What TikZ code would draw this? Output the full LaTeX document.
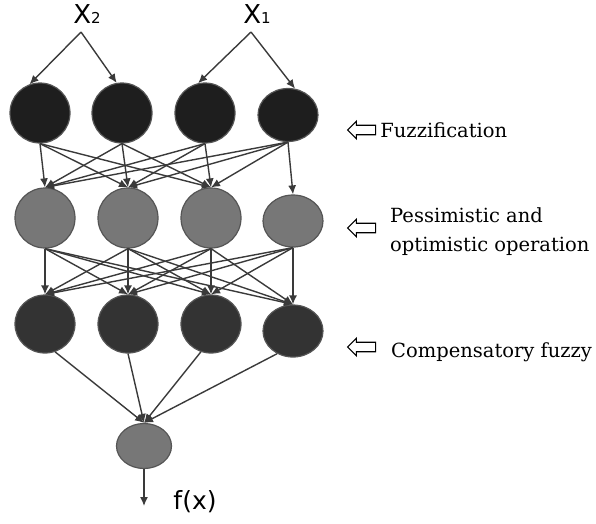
\documentclass[tikz,border=0pt]{standalone}
\usepackage{fontspec}
\usepackage{tikz}
\usetikzlibrary{positioning,arrows.meta,calc,shapes.geometric,shapes.arrows}
\newfontfamily\labelfont{DejaVu Serif}
\newfontfamily\inputfont{DejaVu Sans}
\definecolor{NodeBlack}{HTML}{1E1E1E}
\definecolor{NodeGray}{HTML}{777777}
\definecolor{NodeDark}{HTML}{333333}
\definecolor{EdgeGray}{HTML}{3A3A3A}
\definecolor{RimGray}{HTML}{555555}

\begin{document}
\begin{tikzpicture}[x=1pt,y=-1pt,
  neuron/.style={ellipse,draw=RimGray,line width=1.2pt,minimum width=60,minimum height=60,inner sep=0},
  link/.style={EdgeGray,line width=1.4pt,-{Latex[length=9pt,width=8pt]}},
  hollow/.style={single arrow,draw=black,fill=white,line width=1.1pt,shape border rotate=180,
    minimum height=28,inner sep=4.2pt,single arrow head extend=4pt},
  layertext/.style={font=\labelfont\fontsize{19.5}{29}\selectfont,align=left,inner sep=0}]
\useasboundingbox (0,0) rectangle (596,523);
% inputs
\node[font=\inputfont] (x2) at (87,14) {{\fontsize{26}{26}\selectfont X}{\fontsize{15}{15}\selectfont 2}};
\node[font=\inputfont] (x1) at (257,14) {{\fontsize{26}{26}\selectfont X}{\fontsize{15}{15}\selectfont 1}};
\coordinate (x2s) at (81,32);
\coordinate (x1s) at (251,32);
% fuzzification layer
\foreach \n/\x in {1/40,2/122,3/205}
  \node[neuron,fill=NodeBlack] (f\n) at (\x,113) {};
\node[neuron,fill=NodeBlack,minimum height=53] (f4) at (288,115) {};
% pessimistic / optimistic layer
\foreach \n/\x in {1/45,2/128,3/211}
  \node[neuron,fill=NodeGray] (p\n) at (\x,218) {};
\node[neuron,fill=NodeGray,minimum height=52] (p4) at (293,221) {};
% compensatory layer
\foreach \n/\x in {1/45,2/128,3/211}
  \node[neuron,fill=NodeDark,minimum height=58] (c\n) at (\x,324) {};
\node[neuron,fill=NodeDark,minimum height=52] (c4) at (293,331) {};
% output
\node[neuron,fill=NodeGray,minimum width=55,minimum height=45] (out) at (144,446) {};
\node[font=\inputfont\fontsize{25}{25}\selectfont] (fx) at (195,502) {f(x)};
\coordinate (oend) at (144,506);

\draw[link] (x2s) -- (f1.110);
\draw[link] (x2s) -- (f2.100);
\draw[link] (x1s) -- (f3.103);
\draw[link] (x1s) -- (f4.75);
\foreach \i in {1,...,4}
  \foreach \j in {1,2,3}
    \draw[link] (f\i.south) -- (p\j.north);
\draw[link] (f4.south) -- (p4.north);
\foreach \i in {1,...,4}
  \foreach \j in {1,...,4}
    \draw[link] (p\i.south) -- (c\j.north);
\foreach \i/\a in {1/-70,2/-90,3/-110,4/-125}
  \draw[link] (c\i.\a) -- (out.north);
\draw[link] (out.south) -- (oend);

% layer captions
\node[hollow] (a1) at (364,130) {};
\node[layertext,right=4pt of a1] (t1) {Fuzzification};
\node[hollow] (a2) at (364,228) {};
\node[layertext,anchor=west] (t2) at (390,232) {Pessimistic and\\optimistic operation};
\node[hollow] (a3) at (364,347) {};
\node[layertext,anchor=west] (t3) at (391,352) {Compensatory fuzzy};
\end{tikzpicture}
\end{document}
